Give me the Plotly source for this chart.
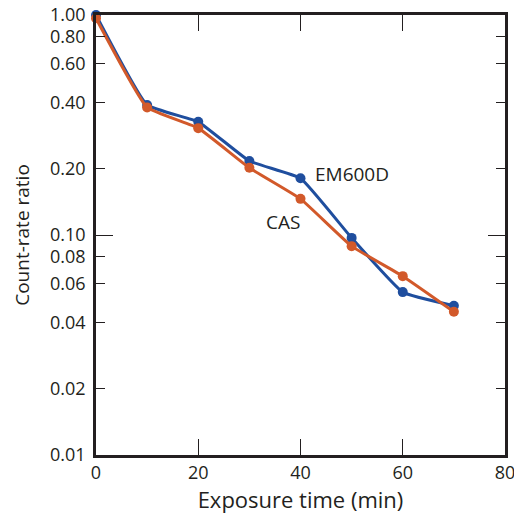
import math
import plotly.graph_objects as go

time_min = [0, 10, 20, 30, 40, 50, 60, 70]
em600d = [1.00, 0.39, 0.327, 0.217, 0.181, 0.097, 0.055, 0.0477]
cas = [0.966, 0.38, 0.306, 0.202, 0.146, 0.089, 0.065, 0.0448]

y_tickvals = [1.0, 0.8, 0.6, 0.4, 0.2, 0.1, 0.08, 0.06, 0.04, 0.02, 0.01]
y_ticktext = ["1.00", "0.80", "0.60", "0.40", "0.20", "0.10", "0.08", "0.06", "0.04", "0.02", "0.01"]
x_tickvals = [0, 20, 40, 60, 80]

BLUE = "#1f4e9e"
ORANGE = "#d2592a"
INK = "#231f20"
FONT = "Open Sans"

fig = go.Figure()
fig.add_trace(go.Scatter(
    x=time_min, y=em600d, mode="lines+markers", name="EM600D",
    line=dict(color=BLUE, width=3, shape="spline", smoothing=0.35),
    marker=dict(color=BLUE, size=10), cliponaxis=False))
fig.add_trace(go.Scatter(
    x=time_min, y=cas, mode="lines+markers", name="CAS",
    line=dict(color=ORANGE, width=3, shape="spline", smoothing=0.35),
    marker=dict(color=ORANGE, size=10), cliponaxis=False))

fig.add_annotation(x=42.5, y=math.log10(0.19), text="EM600D", showarrow=False,
                   xanchor="left", yanchor="middle",
                   font=dict(family=FONT, size=19, color=INK))
fig.add_annotation(x=32.8, y=math.log10(0.115), text="CAS", showarrow=False,
                   xanchor="left", yanchor="middle",
                   font=dict(family=FONT, size=19, color=INK))

fig.update_layout(
    width=514, height=514,
    margin=dict(l=96, r=9, t=15, b=59),
    paper_bgcolor="white", plot_bgcolor="white",
    showlegend=False,
    font=dict(family=FONT, size=18, color=INK),
    xaxis=dict(range=[0, 80], tickvals=x_tickvals, ticks="inside", ticklen=16,
               tickwidth=1.3, tickcolor=INK, showline=True, linecolor=INK,
               linewidth=2.5, mirror="ticks", showgrid=False, zeroline=False,
               automargin=False, ticklabeloverflow="allow",
               title=dict(text="Exposure time (min)", standoff=11,
                          font=dict(size=22)),
               tickfont=dict(size=18)),
    yaxis=dict(type="log", range=[-2, 0], tickvals=y_tickvals, ticktext=y_ticktext,
               ticks="inside", ticklen=9, tickwidth=1.3, tickcolor=INK,
               showline=True, linecolor=INK, linewidth=2.5, mirror="ticks",
               showgrid=False, zeroline=False, automargin=False,
               ticklabeloverflow="allow", ticklabelstandoff=4,
               title=dict(text="Count-rate ratio", standoff=16, font=dict(size=19)),
               tickfont=dict(size=18)),
    yaxis2=dict(type="log", range=[-2, 0], overlaying="y", tickvals=[0.1],
                ticks="inside", ticklen=17, tickwidth=1.3, tickcolor=INK,
                showticklabels=False, showline=True, linecolor=INK, linewidth=2.5,
                mirror="ticks", showgrid=False, zeroline=False, automargin=False),
)
fig.add_trace(go.Scatter(x=[None], y=[None], yaxis="y2", showlegend=False,
                         hoverinfo="skip"))

fig.write_html("out.html",
               config={"displayModeBar": False},
               post_script="document.body.style.margin='0';document.body.style.overflow='hidden';")
